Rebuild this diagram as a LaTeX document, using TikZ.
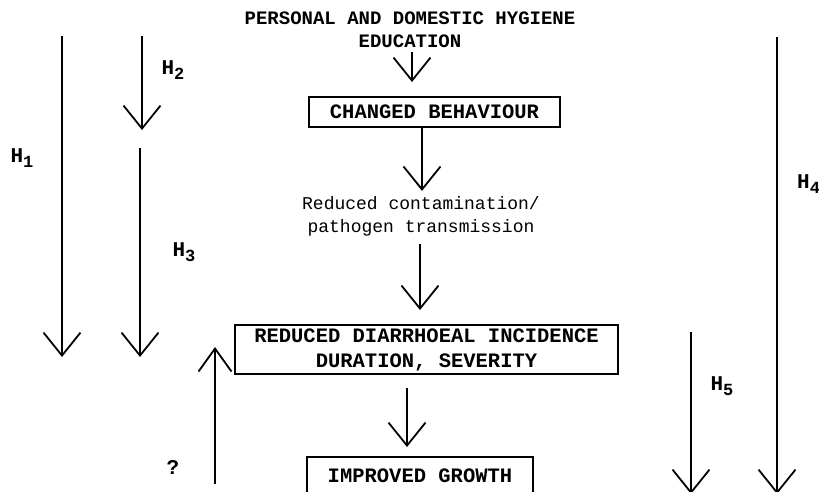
\documentclass[tikz,border=0pt]{standalone}
\usepackage{fontspec}
\setmonofont{Liberation Mono}
\usetikzlibrary{arrows.meta}
\newcommand{\hsub}[1]{H\raisebox{-0.45ex}{\fontsize{17}{17}\selectfont #1}}
\tikzset{
  box/.style={draw,line width=1.8pt,inner sep=0pt,align=center,
    font=\ttfamily\bfseries\fontsize{20.5}{25}\selectfont},
  caps/.style={align=center,inner sep=1pt,
    font=\ttfamily\bfseries\fontsize{19}{23}\selectfont},
  plain/.style={align=center,inner sep=1pt,
    font=\ttfamily\fontsize{18}{23}\selectfont},
  hlab/.style={inner sep=0pt,font=\ttfamily\bfseries\fontsize{21}{21}\selectfont},
  arr/.style={line width=1.8pt,
    -{Straight Barb[length=23pt,width=37pt,line width=1.8pt]}}
}
\begin{document}
\begin{tikzpicture}[x=1pt,y=-1pt]
\useasboundingbox (0,0) rectangle (819,491);
% centre column
\node[caps] (title) at (410,30) {PERSONAL AND DOMESTIC HYGIENE\\EDUCATION};
\node[box,minimum width=251pt,minimum height=30pt] (behav) at (434.5,112) {CHANGED BEHAVIOUR};
\node[plain] (contam) at (421,216) {Reduced contamination/\\pathogen transmission};
\node[box,minimum width=383pt,minimum height=49pt] (diarr) at (426.5,349.5) {REDUCED DIARRHOEAL INCIDENCE\\DURATION, SEVERITY};
\node[box,minimum width=226pt,minimum height=38pt] (growth) at (420,476) {IMPROVED GROWTH};
\draw[arr] (412,52) -- (412,82);
\draw[arr] ([xshift=-12.5pt]behav.south) -- ++(0,63);
\draw[arr] (420,244) -- (420,310);
\draw[arr] (407,388) -- (407,447);
% left hypotheses
\coordinate (h1a) at (62,36);   \coordinate (h1b) at (62,357);
\coordinate (h2a) at (142,36);  \coordinate (h2b) at (142,130);
\coordinate (h3a) at (140,148); \coordinate (h3b) at (140,357);
\draw[arr] (h1a) -- (h1b);
\draw[arr] (h2a) -- (h2b);
\draw[arr] (h3a) -- (h3b);
\node[hlab] (lh1) at (22,158) {\hsub{1}};
\node[hlab] (lh2) at (173,70) {\hsub{2}};
\node[hlab] (lh3) at (184,252) {\hsub{3}};
% back arrow
\coordinate (qa) at (215,484); \coordinate (qb) at (215,347);
\draw[arr,-{Straight Barb[length=23pt,width=33pt,line width=1.8pt]}] (qa) -- (qb);
\node[hlab] (q) at (173,467) {?};
% right hypotheses
\coordinate (h4a) at (777,37);  \coordinate (h4b) at (777,494);
\coordinate (h5a) at (691,332); \coordinate (h5b) at (691,494);
\draw[arr] (h4a) -- (h4b);
\draw[arr] (h5a) -- (h5b);
\node[hlab,anchor=west] (lh4) at (797,184) {\hsub{4}};
\node[hlab] (lh5) at (722,386) {\hsub{5}};
\end{tikzpicture}
\end{document}
